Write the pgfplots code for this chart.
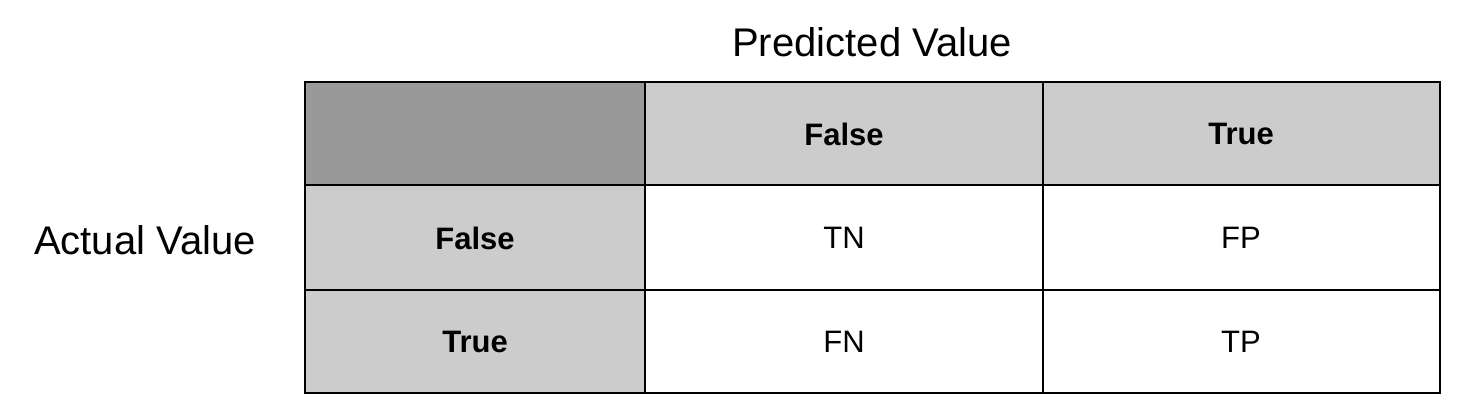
\documentclass[border=0pt]{standalone}
\usepackage{pgfplots}
\pgfplotsset{compat=1.18}
\usepackage{fontspec}
\setmainfont{Liberation Sans}
\definecolor{dark}{HTML}{999999}
\definecolor{light}{HTML}{CCCCCC}
\begin{document}
\begin{tikzpicture}
\begin{axis}[scale only axis, width=740pt, height=209pt,
  xmin=0, xmax=1480, ymin=0, ymax=418, axis lines=none, clip=false,
  every axis plot/.append style={line width=1pt, draw=black}]
\addplot[draw=none, line width=0pt] coordinates {(0,0) (1480,418)};
\addplot[fill=dark] coordinates {(305,336) (645,336) (645,233) (305,233)} --cycle;
\addplot[fill=light] coordinates {(645,336) (1043,336) (1043,233) (645,233)} --cycle;
\addplot[fill=light] coordinates {(1043,336) (1440,336) (1440,233) (1043,233)} --cycle;
\addplot[fill=light] coordinates {(305,233) (645,233) (645,128) (305,128)} --cycle;
\addplot[fill=light] coordinates {(305,128) (645,128) (645,25) (305,25)} --cycle;
\addplot[fill=white] coordinates {(645,233) (1043,233) (1043,128) (645,128)} --cycle;
\addplot[fill=white] coordinates {(1043,233) (1440,233) (1440,128) (1043,128)} --cycle;
\addplot[fill=white] coordinates {(645,128) (1043,128) (1043,25) (645,25)} --cycle;
\addplot[fill=white] coordinates {(1043,128) (1440,128) (1440,25) (1043,25)} --cycle;
\node[font=\fontsize{20}{24}\selectfont] at (axis cs:872,376) {Predicted Value};
\node[font=\fontsize{20}{24}\selectfont] at (axis cs:145,178) {Actual Value};
\node[font=\fontsize{15.5}{18}\selectfont\bfseries] at (axis cs:844,284) {False};
\node[font=\fontsize{15.5}{18}\selectfont\bfseries] at (axis cs:1241,284) {True};
\node[font=\fontsize{15.5}{18}\selectfont\bfseries] at (axis cs:475,180) {False};
\node[font=\fontsize{15.5}{18}\selectfont\bfseries] at (axis cs:475,76) {True};
\node[font=\fontsize{15.5}{18}\selectfont] at (axis cs:844,180) {TN};
\node[font=\fontsize{15.5}{18}\selectfont] at (axis cs:1241,180) {FP};
\node[font=\fontsize{15.5}{18}\selectfont] at (axis cs:844,76) {FN};
\node[font=\fontsize{15.5}{18}\selectfont] at (axis cs:1241,76) {TP};
\end{axis}
\end{tikzpicture}
\end{document}
